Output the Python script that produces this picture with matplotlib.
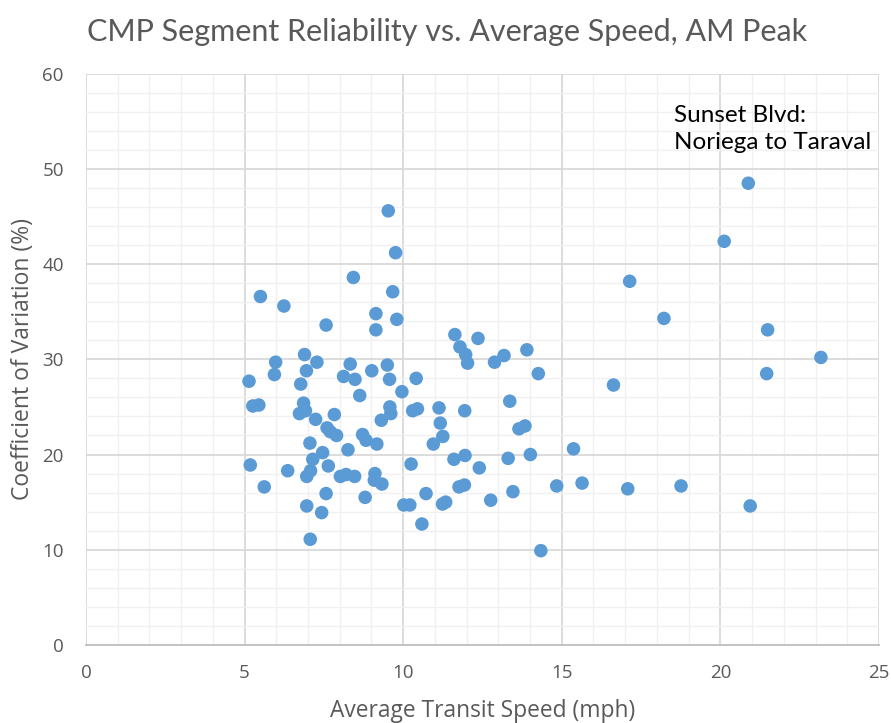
import numpy as np
import matplotlib
matplotlib.use("Agg")
import matplotlib.pyplot as plt
from matplotlib.ticker import MultipleLocator

plt.rcParams["font.family"] = ["Open Sans", "DejaVu Sans"]

# average transit speed (mph) and coefficient of variation (%) per CMP segment
speed = [5.14, 5.18, 5.26, 5.45, 5.50, 5.62, 5.94, 5.98, 6.24, 6.36,
         6.73, 6.77, 6.86, 6.89, 6.92, 6.95, 6.96, 6.96, 7.06, 7.07,
         7.08, 7.15, 7.24, 7.28, 7.43, 7.46, 7.57, 7.57, 7.60, 7.64,
         7.70, 7.83, 7.90, 8.02, 8.12, 8.20, 8.26, 8.33, 8.43, 8.47,
         8.48, 8.63, 8.72, 8.80, 8.83, 9.01, 9.09, 9.11, 9.14, 9.14,
         9.17, 9.31, 9.33, 9.50, 9.53, 9.57, 9.58, 9.61, 9.67, 9.76,
         9.80, 9.96, 10.02, 10.21, 10.25, 10.30, 10.41, 10.45, 10.59, 10.72,
         10.95, 11.13, 11.17, 11.25, 11.24, 11.34, 11.60, 11.63, 11.76, 11.79,
         11.93, 11.94, 11.95, 11.97, 12.03, 12.36, 12.40, 12.76, 12.88, 13.18,
         13.31, 13.36, 13.46, 13.65, 13.84, 13.90, 14.01, 14.26, 14.34, 14.84,
         15.37, 15.64, 16.63, 17.08, 17.14, 18.22, 18.76, 20.12, 20.88, 20.94,
         21.46, 21.49, 23.17]
cov = [27.7, 18.9, 25.1, 25.2, 36.6, 16.6, 28.4, 29.7, 35.6, 18.3,
       24.3, 27.4, 25.4, 30.5, 24.6, 28.8, 17.7, 14.6, 21.2, 11.1,
       18.3, 19.5, 23.7, 29.7, 13.9, 20.2, 33.6, 15.9, 22.8, 18.8,
       22.4, 24.2, 22.0, 17.7, 28.2, 17.9, 20.5, 29.5, 38.6, 17.7,
       27.9, 26.2, 22.1, 15.5, 21.5, 28.8, 17.3, 18.0, 34.8, 33.1,
       21.1, 23.6, 16.9, 29.4, 45.6, 27.9, 25.0, 24.3, 37.1, 41.2,
       34.2, 26.6, 14.7, 14.7, 19.0, 24.6, 28.0, 24.8, 12.7, 15.9,
       21.1, 24.9, 23.3, 21.9, 14.8, 15.0, 19.5, 32.6, 16.6, 31.3,
       16.8, 24.6, 19.9, 30.5, 29.6, 32.2, 18.6, 15.2, 29.7, 30.4,
       19.6, 25.6, 16.1, 22.7, 23.0, 31.0, 20.0, 28.5, 9.9, 16.7,
       20.6, 17.0, 27.3, 16.4, 38.2, 34.3, 16.7, 42.4, 48.5, 14.6,
       28.5, 33.1, 30.2]

title = "CMP Segment Reliability vs. Average Speed, AM Peak"
xlabel = "Average Transit Speed (mph)"
ylabel = "Coefficient of Variation (%)"
note = "Sunset Blvd:\nNoriega to Taraval"

fig = plt.figure(figsize=(8.91, 7.23), dpi=100)
ax = fig.add_axes([0.0965, 0.108, 0.89, 0.79])

ax.scatter(speed, cov, s=95, color="#5B9BD5", edgecolors="none", zorder=3)

ax.set_xlim(0, 25)
ax.set_ylim(0, 60)
ax.xaxis.set_major_locator(MultipleLocator(5))
ax.xaxis.set_minor_locator(MultipleLocator(1))
ax.yaxis.set_major_locator(MultipleLocator(10))
ax.yaxis.set_minor_locator(MultipleLocator(2))
ax.grid(which="major", color="#D9D9D9", linewidth=1.3, zorder=1)
ax.grid(which="minor", color="#F0F0F0", linewidth=1.0, zorder=0)
ax.set_axisbelow(True)

for s in ["top", "right", "left"]:
    ax.spines[s].set_visible(False)
ax.spines["bottom"].set_color("#BFBFBF")
ax.spines["bottom"].set_linewidth(1.3)

ax.tick_params(which="both", length=0, colors="#595959", labelsize=13.5)
ax.tick_params(axis="x", pad=14)
ax.tick_params(axis="y", pad=16)

ax.set_xlabel(xlabel, fontsize=16.4, color="#595959", labelpad=12)
ax.set_ylabel(ylabel, fontsize=16.5, color="#595959", labelpad=5)
fig.suptitle(title, fontsize=22, color="#595959", x=0.502, y=0.975,
             family=["Lato", "DejaVu Sans"])

ax.text(0.742, 0.945, note, transform=ax.transAxes, fontsize=17.5,
        color="black", va="top", ha="left", linespacing=1.35,
        family=["Lato", "DejaVu Sans"])

fig.savefig("out.png", dpi=100)
